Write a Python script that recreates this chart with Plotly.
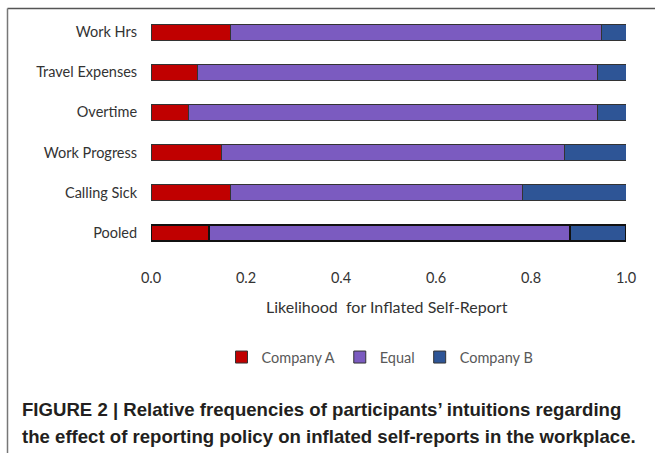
import plotly.graph_objects as go

# Categories, listed top to bottom
categories = ["Work Hrs", "Travel Expenses", "Overtime", "Work Progress", "Calling Sick", "Pooled"]

# Relative frequencies per answer option
company_a = [0.168, 0.098, 0.079, 0.148, 0.168, 0.122]
equal = [0.781, 0.842, 0.861, 0.723, 0.615, 0.761]
company_b = [0.051, 0.060, 0.060, 0.129, 0.217, 0.117]

x_ticks = [0.0, 0.2, 0.4, 0.6, 0.8, 1.0]
x_tick_text = ["0.0", "0.2", "0.4", "0.6", "0.8", "1.0"]

W, H = 655, 453
L, R, T, B = 151, 29, 11.6, 200.2
plot_w = W - L - R
plot_h = H - T - B


def px_x(px):
    return (px - L) / plot_w


def px_y(py):
    return (H - B - py) / plot_h


line_widths = [2 if c == "Pooled" else 1 for c in categories]
line_colors = ["#111111" if c == "Pooled" else "#333333" for c in categories]

series = [
    ("Company A", company_a, "#C00000"),
    ("Equal", equal, "#7B5BC0"),
    ("Company B", company_b, "#2E5596"),
]

fig = go.Figure()
for name, vals, color in series:
    fig.add_trace(go.Bar(
        name=name,
        y=categories,
        x=vals,
        orientation="h",
        marker=dict(color=color, line=dict(color=line_colors, width=line_widths)),
    ))

fig.update_layout(
    width=W, height=H,
    barmode="stack",
    bargap=0.6,
    paper_bgcolor="white",
    plot_bgcolor="white",
    margin=dict(l=L, r=R, t=T, b=B, pad=0),
    font=dict(family="Lato, Open Sans, sans-serif", size=14.5, color="#333333"),
    showlegend=True,
    legend=dict(
        orientation="h",
        x=px_x(380), xanchor="center",
        y=px_y(357), yanchor="middle",
        font=dict(size=14.5, color="#595959"),
        itemwidth=30,
        traceorder="normal",
    ),
    xaxis=dict(
        range=[0, 1],
        tickvals=x_ticks,
        ticktext=x_tick_text,
        showgrid=False,
        zeroline=False,
        showline=False,
        ticks="outside",
        ticklen=12,
        tickcolor="rgba(0,0,0,0)",
        tickfont=dict(size=14.5, color="#333333"),
        fixedrange=True,
    ),
    yaxis=dict(
        categoryorder="array",
        categoryarray=categories,
        autorange="reversed",
        showgrid=False,
        zeroline=False,
        showline=False,
        ticks="outside",
        ticklen=10,
        tickcolor="rgba(0,0,0,0)",
        tickfont=dict(size=14.5, color="#333333"),
    ),
)

# Axis title
fig.add_annotation(
    text="Likelihood  for Inflated Self-Report",
    xref="paper", yref="paper",
    x=px_x(387), y=px_y(306), xanchor="center", yanchor="middle",
    showarrow=False, font=dict(size=16, color="#333333"),
)

# Figure caption
caption_lines = [
    "FIGURE 2 | Relative frequencies of participants\u2019 intuitions regarding",
    "the effect of reporting policy on inflated self-reports in the workplace.",
]
for i, line in enumerate(caption_lines):
    fig.add_annotation(
        text="<b>" + line + "</b>",
        xref="paper", yref="paper",
        x=px_x(20), y=px_y(409 + 27 * i), xanchor="left", yanchor="middle",
        showarrow=False,
        font=dict(family="Liberation Sans, Arial, sans-serif", size=18.6, color="#231F20"),
    )

# Panel frame: top and left rules
fig.add_shape(type="line", xref="paper", yref="paper",
              x0=px_x(7.5), x1=px_x(W + 2), y0=px_y(8), y1=px_y(8),
              line=dict(color="#555555", width=1.5))
fig.add_shape(type="line", xref="paper", yref="paper",
              x0=px_x(7.5), x1=px_x(7.5), y0=px_y(8), y1=px_y(H + 2),
              line=dict(color="#777777", width=1.5))

fig.write_html("out.html")
